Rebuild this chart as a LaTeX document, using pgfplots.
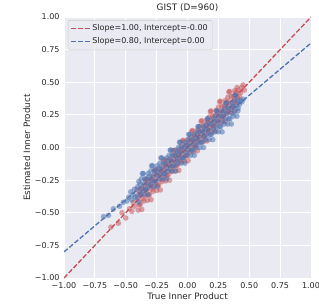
\documentclass[border=0pt]{standalone}
\usepackage{pgfplots}
\pgfplotsset{compat=1.18}
\usepackage{fontspec}
\setmainfont{DejaVu Sans}
\definecolor{sred}{HTML}{C44E52}
\definecolor{sblue}{HTML}{4C72B0}
\definecolor{sbg}{HTML}{EAEAF2}
\definecolor{stxt}{HTML}{262626}
\begin{document}
\begin{tikzpicture}
\begin{axis}[
  name=ax,
  scale only axis,
  width=247bp, height=261bp,
  xmin=-1, xmax=1, ymin=-1, ymax=1,
  axis background/.style={fill=sbg},
  axis line style={draw=none},
  tick style={draw=none},
  grid=major,
  grid style={white, line width=0.9bp},
  xtick={-1,-0.75,-0.5,-0.25,0,0.25,0.5,0.75,1},
  ytick={-1,-0.75,-0.5,-0.25,0,0.25,0.5,0.75,1},
  xticklabels={−1.00,−0.75,−0.50,−0.25,0.00,0.25,0.50,0.75,1.00},
  yticklabels={−1.00,−0.75,−0.50,−0.25,0.00,0.25,0.50,0.75,1.00},
  ticklabel style={font=\fontsize{8bp}{9.6bp}\selectfont, text=stxt},
  xticklabel style={yshift=-1bp},
  yticklabel style={xshift=-1bp},
  xlabel={True Inner Product},
  ylabel={Estimated Inner Product},
  label style={font=\fontsize{8.8bp}{10.5bp}\selectfont, text=stxt},
  xlabel style={yshift=3bp},
  ylabel style={yshift=-2bp},
  title={GIST (D=960)},
  title style={font=\fontsize{8.9bp}{10.6bp}\selectfont, text=stxt, yshift=-4bp},
  legend cell align=left,
  legend style={font=\fontsize{8bp}{9.6bp}\selectfont, text=stxt, fill=sbg, fill opacity=0.8, text opacity=1, draw=white!80!black, rounded corners=2bp, at={(0.016,0.988)}, anchor=north west, row sep=1.5bp, inner xsep=2.5bp, inner ysep=2.5bp},
  legend image code/.code={\draw[#1] (0cm,0cm) -- (0.65cm,0cm);},
]
% red scatter: slope 1.00
\addplot[only marks, color=sred, mark=*, mark size=2.8bp, mark options={fill=sred, fill opacity=0.5, draw opacity=0}, forget plot] coordinates {
(-0.62,-0.61) (-0.56,-0.58) (-0.53,-0.50) (-0.50,-0.54) (-0.47,-0.47) (-0.45,-0.49) (-0.44,-0.42) (-0.43,-0.45)
(-0.400,-0.480) (-0.392,-0.440) (-0.406,-0.400) (-0.396,-0.360) (-0.409,-0.320)
(-0.370,-0.475) (-0.382,-0.435) (-0.366,-0.395) (-0.378,-0.355) (-0.369,-0.315)
(-0.354,-0.410) (-0.344,-0.370) (-0.358,-0.330) (-0.348,-0.290) (-0.340,-0.250)
(-0.325,-0.405) (-0.317,-0.365) (-0.331,-0.325) (-0.321,-0.285) (-0.334,-0.245)
(-0.295,-0.400) (-0.307,-0.360) (-0.291,-0.320) (-0.303,-0.280) (-0.294,-0.240)
(-0.279,-0.335) (-0.269,-0.295) (-0.283,-0.255) (-0.273,-0.215) (-0.265,-0.175)
(-0.250,-0.330) (-0.242,-0.290) (-0.256,-0.250) (-0.246,-0.210) (-0.259,-0.170)
(-0.220,-0.325) (-0.232,-0.285) (-0.216,-0.245) (-0.228,-0.205) (-0.219,-0.165)
(-0.204,-0.260) (-0.194,-0.220) (-0.208,-0.180) (-0.198,-0.140) (-0.190,-0.100)
(-0.175,-0.255) (-0.167,-0.215) (-0.181,-0.175) (-0.171,-0.135) (-0.184,-0.095)
(-0.145,-0.250) (-0.157,-0.210) (-0.141,-0.170) (-0.153,-0.130) (-0.144,-0.090)
(-0.129,-0.185) (-0.119,-0.145) (-0.133,-0.105) (-0.123,-0.065) (-0.115,-0.025)
(-0.100,-0.180) (-0.092,-0.140) (-0.106,-0.100) (-0.096,-0.060) (-0.109,-0.020)
(-0.070,-0.175) (-0.082,-0.135) (-0.066,-0.095) (-0.078,-0.055) (-0.069,-0.015)
(-0.054,-0.110) (-0.044,-0.070) (-0.058,-0.030) (-0.048,0.010) (-0.040,0.050)
(-0.025,-0.105) (-0.017,-0.065) (-0.031,-0.025) (-0.021,0.015) (-0.034,0.055)
(0.005,-0.100) (-0.007,-0.060) (0.009,-0.020) (-0.003,0.020) (0.006,0.060)
(0.021,-0.035) (0.031,0.005) (0.017,0.045) (0.027,0.085) (0.035,0.125)
(0.050,-0.030) (0.058,0.010) (0.044,0.050) (0.054,0.090) (0.041,0.130)
(0.080,-0.025) (0.068,0.015) (0.084,0.055) (0.072,0.095) (0.081,0.135)
(0.096,0.040) (0.106,0.080) (0.092,0.120) (0.102,0.160) (0.110,0.200)
(0.125,0.045) (0.133,0.085) (0.119,0.125) (0.129,0.165) (0.116,0.205)
(0.155,0.050) (0.143,0.090) (0.159,0.130) (0.147,0.170) (0.156,0.210)
(0.171,0.115) (0.181,0.155) (0.167,0.195) (0.177,0.235) (0.185,0.275)
(0.200,0.120) (0.208,0.160) (0.194,0.200) (0.204,0.240) (0.191,0.280)
(0.230,0.125) (0.218,0.165) (0.234,0.205) (0.222,0.245) (0.231,0.285)
(0.246,0.190) (0.256,0.230) (0.242,0.270) (0.252,0.310) (0.260,0.350)
(0.275,0.195) (0.283,0.235) (0.269,0.275) (0.279,0.315) (0.266,0.355)
(0.305,0.200) (0.293,0.240) (0.309,0.280) (0.297,0.320) (0.306,0.360)
(0.321,0.265) (0.331,0.305) (0.317,0.345) (0.327,0.385) (0.335,0.425)
(0.350,0.270) (0.358,0.310) (0.344,0.350) (0.354,0.390) (0.341,0.430)
(0.380,0.275) (0.368,0.315) (0.384,0.355) (0.372,0.395) (0.381,0.435)
(0.396,0.340) (0.406,0.380) (0.392,0.420) (0.402,0.460) (0.410,0.440)
(0.43,0.42) (0.44,0.46) (0.46,0.44) (0.42,0.39) (0.45,0.48)
};
% blue scatter: slope 0.80
\addplot[only marks, color=sblue, mark=*, mark size=2.8bp, mark options={fill=sblue, fill opacity=0.55, draw opacity=0}, forget plot] coordinates {
(-0.68,-0.53) (-0.64,-0.52) (-0.60,-0.47) (-0.55,-0.45) (-0.52,-0.42) (-0.49,-0.41) (-0.475,-0.38) (-0.46,-0.34) (-0.45,-0.40) (-0.44,-0.36) (-0.43,-0.32) (-0.425,-0.38)
(-0.395,-0.42) (-0.407,-0.38) (-0.391,-0.34) (-0.403,-0.30) (-0.394,-0.26)
(-0.379,-0.36) (-0.369,-0.32) (-0.383,-0.28) (-0.373,-0.24) (-0.365,-0.20)
(-0.350,-0.36) (-0.342,-0.32) (-0.356,-0.28) (-0.346,-0.24) (-0.359,-0.20)
(-0.320,-0.36) (-0.332,-0.32) (-0.316,-0.28) (-0.328,-0.24) (-0.319,-0.20)
(-0.304,-0.30) (-0.294,-0.26) (-0.308,-0.22) (-0.298,-0.18) (-0.290,-0.14)
(-0.275,-0.30) (-0.267,-0.26) (-0.281,-0.22) (-0.271,-0.18) (-0.284,-0.14)
(-0.245,-0.30) (-0.257,-0.26) (-0.241,-0.22) (-0.253,-0.18) (-0.244,-0.14)
(-0.229,-0.24) (-0.219,-0.20) (-0.233,-0.16) (-0.223,-0.12) (-0.215,-0.08)
(-0.200,-0.24) (-0.192,-0.20) (-0.206,-0.16) (-0.196,-0.12) (-0.209,-0.08)
(-0.170,-0.24) (-0.182,-0.20) (-0.166,-0.16) (-0.178,-0.12) (-0.169,-0.08)
(-0.154,-0.18) (-0.144,-0.14) (-0.158,-0.10) (-0.148,-0.06) (-0.140,-0.02)
(-0.125,-0.18) (-0.117,-0.14) (-0.131,-0.10) (-0.121,-0.06) (-0.134,-0.02)
(-0.095,-0.18) (-0.107,-0.14) (-0.091,-0.10) (-0.103,-0.06) (-0.094,-0.02)
(-0.079,-0.12) (-0.069,-0.08) (-0.083,-0.04) (-0.073,0.00) (-0.065,0.04)
(-0.050,-0.12) (-0.042,-0.08) (-0.056,-0.04) (-0.046,0.00) (-0.059,0.04)
(-0.020,-0.12) (-0.032,-0.08) (-0.016,-0.04) (-0.028,0.00) (-0.019,0.04)
(-0.004,-0.06) (0.006,-0.02) (-0.008,0.02) (0.002,0.06) (0.010,0.10)
(0.025,-0.06) (0.033,-0.02) (0.019,0.02) (0.029,0.06) (0.016,0.10)
(0.055,-0.06) (0.043,-0.02) (0.059,0.02) (0.047,0.06) (0.056,0.10)
(0.071,0.00) (0.081,0.04) (0.067,0.08) (0.077,0.12) (0.085,0.16)
(0.100,0.00) (0.108,0.04) (0.094,0.08) (0.104,0.12) (0.091,0.16)
(0.130,0.00) (0.118,0.04) (0.134,0.08) (0.122,0.12) (0.131,0.16)
(0.146,0.06) (0.156,0.10) (0.142,0.14) (0.152,0.18) (0.160,0.22)
(0.175,0.06) (0.183,0.10) (0.169,0.14) (0.179,0.18) (0.166,0.22)
(0.205,0.06) (0.193,0.10) (0.209,0.14) (0.197,0.18) (0.206,0.22)
(0.221,0.12) (0.231,0.16) (0.217,0.20) (0.227,0.24) (0.235,0.28)
(0.250,0.12) (0.258,0.16) (0.244,0.20) (0.254,0.24) (0.241,0.28)
(0.280,0.12) (0.268,0.16) (0.284,0.20) (0.272,0.24) (0.281,0.28)
(0.296,0.18) (0.306,0.22) (0.292,0.26) (0.302,0.30) (0.310,0.34)
(0.325,0.18) (0.333,0.22) (0.319,0.26) (0.329,0.30) (0.316,0.34)
(0.355,0.18) (0.343,0.22) (0.359,0.26) (0.347,0.30) (0.356,0.34)
(0.371,0.24) (0.381,0.28) (0.367,0.32) (0.377,0.36) (0.385,0.40)
(0.400,0.24) (0.408,0.28) (0.394,0.32) (0.404,0.36) (0.391,0.40)
(0.42,0.33) (0.43,0.36) (0.44,0.35) (0.41,0.30) (0.45,0.37)
};
\addplot[sred, line width=1.3bp, dash pattern=on 4.8bp off 2.1bp] coordinates {(-1,-1) (1,1)};
\addlegendentry{Slope=1.00, Intercept=-0.00}
\addplot[sblue, line width=1.3bp, dash pattern=on 4.8bp off 2.1bp] coordinates {(-1,-0.8) (1,0.8)};
\addlegendentry{Slope=0.80, Intercept=0.00}
\end{axis}
\pgfresetboundingbox
\path (ax.south west) ++(-64bp,-29bp) coordinate (bbsw);
\path (ax.north east) ++(8bp,17bp) coordinate (bbne);
\useasboundingbox (bbsw) rectangle (bbne);
\end{tikzpicture}
\end{document}
